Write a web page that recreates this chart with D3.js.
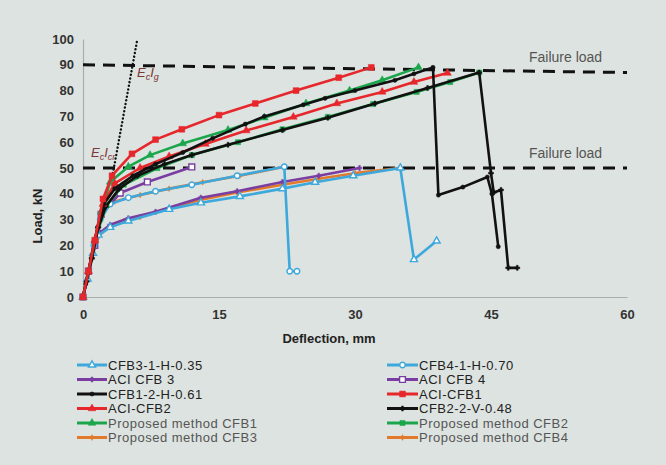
<!DOCTYPE html>
<html><head><meta charset="utf-8">
<script src="https://cdn.jsdelivr.net/npm/d3@7"></script>
<style>
html,body{margin:0;padding:0;background:#dde3e0;}
svg{display:block;font-family:"Liberation Sans",Arial,sans-serif;}
</style></head>
<body>
<svg id="chart" width="666" height="465"></svg>
<script>
// ---- data (deflection mm, load kN) ----
const xTicks = [0, 15, 30, 45, 60];
const yTicks = [0, 10, 20, 30, 40, 50, 60, 70, 80, 90, 100];

const cfb3_1_H_035 = [[0,0],[0.5,7],[1.1,17],[1.7,24],[3,27],[5,29.5],[9.5,34],[13,36.5],[17.3,39],[22,42],[25.6,44.5],[29.8,47],[35,50],[36.5,14.5],[39,21.7]];
const cfb4_1_H_070 = [[0,0],[0.6,10],[1.2,20],[1.9,30],[3,36],[5,38.5],[8,41],[12,43.5],[17,47],[22.2,50.5],[22.8,10],[23.6,10]];
const aciCfb3 = [[0,0],[0.6,10],[1.3,20],[1.9,25],[3,28],[5,30.5],[8,33],[13,38.5],[17,41],[22,44.6],[26,47],[30.5,50]];
const aciCfb4 = [[0,0],[0.6,10],[1.3,20],[2,32],[4.1,40.3],[7.1,44.6],[12,50.4]];
const cfb1_2_H_061 = [[0,0],[0.3,5],[0.9,15],[1.6,27],[2.3,36],[3.5,42],[5.5,47],[8,51.5],[11,56],[14.3,61.5],[17.9,67],[20,70],[24.3,74.5],[26.7,77],[30,80],[34.4,84],[36.5,86.5],[38.6,89],[39.2,39.5],[41.9,42.6],[44.6,46.5],[45.1,40],[45.8,19.5]];
const aciCfb1 = [[0,0],[0.6,10],[1.3,22],[2.2,38],[3.2,47],[5.4,55.5],[8,61],[10.9,65],[15,70.5],[19,75],[23.5,80],[28.2,85],[31.8,89]];
const aciCfb2 = [[0,0],[0.6,10],[1.3,22],[2.2,36],[3.5,44],[6.3,50],[9.5,54.5],[13.5,59.3],[18,64.5],[23.2,69.8],[28,75],[33,79.5],[36.5,83.3],[40.2,86.8]];
const cfb2_2_V_048 = [[0,0],[0.4,6],[1,15],[1.7,27],[2.5,35],[4,42],[6,47],[9,51.5],[12,55],[16,59],[22,64.7],[27,69.5],[32.2,75],[38,81],[43.7,87],[45,48],[45.3,40.5],[46.1,41.5],[46.9,11.3],[47.9,11.3]];
const propCfb1 = [[0,0],[0.6,10],[1.3,22],[2,33],[3,44.6],[5,50.5],[7.4,55],[11,59.5],[16,64.7],[20,69.5],[24.6,75],[29.4,80],[33,84],[37,89]];
const propCfb2 = [[0,0],[0.6,10],[1.3,22],[2.6,35.6],[4.5,43.5],[8.2,50],[12,55],[17.1,60],[22,65],[27,69.8],[32,74.8],[36.8,79.5],[40.5,83.3],[43.7,87]];
const propCfb3 = [[0,0],[0.5,8],[1.1,17],[1.8,24],[3,27.5],[4.5,29.5],[6.3,31],[9.5,34.5],[12.9,37.6],[17,40.5],[22,43.5],[26,45.8],[30,48],[35,50]];
const propCfb4 = [[0,0],[0.5,8],[1.1,18],[1.7,28],[2.3,34],[3.5,37],[6.3,39.5],[9.5,42],[13.2,44.5],[17.3,47],[22.2,50.5]];

const failureUpper = [[0,90],[60,87]];
const failureLower = [[0,50],[60,50]];
const ecLine = [[3.3,48],[6.0,100]];

const seriesNames = ["CFB3-1-H-0.35","CFB4-1-H-0.70","ACI CFB 3","ACI CFB 4","CFB1-2-H-0.61","ACI-CFB1","ACI-CFB2","CFB2-2-V-0.48","Proposed method CFB1","Proposed method CFB2","Proposed method CFB3","Proposed method CFB4"];
const seriesData = [cfb3_1_H_035,cfb4_1_H_070,aciCfb3,aciCfb4,cfb1_2_H_061,aciCfb1,aciCfb2,cfb2_2_V_048,propCfb1,propCfb2,propCfb3,propCfb4];

// ---- styles ----
const BLUE="#3da8dc", PURPLE="#7a3ea2", BLACK="#111", RED="#e6272b", GREEN="#1ba64c", ORANGE="#e27a2c";
const styles = [
  {c:BLUE, m:"triangle", open:true, s:22},
  {c:BLUE, m:"circle", open:true, s:24},
  {c:PURPLE, m:"cross", open:false, s:14},
  {c:PURPLE, m:"square", open:true, s:34},
  {c:BLACK, m:"circle", open:false, s:14},
  {c:RED, m:"square", open:false, s:34},
  {c:RED, m:"triangle", open:false, s:26},
  {c:BLACK, m:"cross", open:false, s:14},
  {c:GREEN, m:"triangle", open:false, s:26},
  {c:GREEN, m:"square", open:false, s:26},
  {c:ORANGE, m:"diamond", open:false, s:10},
  {c:ORANGE, m:"diamond", open:false, s:10}
];
const symType = {triangle:d3.symbolTriangle, circle:d3.symbolCircle, square:d3.symbolSquare, cross:d3.symbolCross, diamond:d3.symbolDiamond};

const svg = d3.select("#chart");
const x = d3.scaleLinear().domain([0,60]).range([83,627]);
const y = d3.scaleLinear().domain([0,100]).range([297,39]);

// axes
const yAxis = svg.append("g").attr("transform","translate(83,0)")
  .call(d3.axisLeft(y).tickValues(yTicks).tickSize(0).tickPadding(9));
yAxis.select(".domain").attr("stroke","#a9afad").attr("stroke-width",1.2);
yAxis.selectAll("text").attr("font-size",13).attr("fill","#333").attr("font-family","Liberation Sans, Arial").attr("font-weight","bold");

const xAxis = svg.append("g").attr("transform","translate(0,297)")
  .call(d3.axisBottom(x).tickValues(xTicks).tickSize(0).tickPadding(13));
xAxis.select(".domain").attr("stroke","#a9afad").attr("stroke-width",1.2);
xAxis.selectAll("text").attr("font-size",13).attr("fill","#333").attr("font-family","Liberation Sans, Arial").attr("font-weight","bold");

// axis titles
svg.append("text").attr("x",329).attr("y",343).attr("text-anchor","middle")
  .attr("font-size",13).attr("font-weight","bold").attr("fill","#222").text("Deflection, mm");
svg.append("text").attr("transform","translate(42,216) rotate(-90)").attr("text-anchor","middle")
  .attr("font-size",13).attr("font-weight","bold").attr("fill","#222").text("Load, kN");

const line = d3.line().x(d=>x(d[0])).y(d=>y(d[1]));

// failure load lines
[failureUpper, failureLower].forEach(ln=>{
  svg.append("path").attr("d",line(ln)).attr("fill","none").attr("stroke","#111")
    .attr("stroke-width",3).attr("stroke-dasharray","12,8");
});
svg.append("text").attr("x",529).attr("y",62).attr("font-size",14).attr("fill","#555").text("Failure load");
svg.append("text").attr("x",529).attr("y",158).attr("font-size",14).attr("fill","#555").text("Failure load");

// EcI dotted line
svg.append("path").attr("d",line(ecLine)).attr("fill","none").attr("stroke","#111")
  .attr("stroke-width",2.4).attr("stroke-linecap","round").attr("stroke-dasharray","0.1,3.6");

function eLabel(px,py,sub){
  const t = svg.append("text").attr("x",px).attr("y",py).attr("font-size",13).attr("font-style","italic").attr("fill","#7d3535");
  t.append("tspan").text("E");
  t.append("tspan").attr("font-size",9).attr("dy",3).text("c");
  t.append("tspan").attr("dy",-3).text("I");
  t.append("tspan").attr("font-size",9).attr("dy",3).text(sub);
}
eLabel(137,77,"g");
eLabel(91,157,"cr");

// series lines & markers
const order = [11,10,3,2,1,0,9,8,7,6,4,5];
order.forEach(i=>{
  const st = styles[i];
  const g = svg.append("g");
  g.append("path").attr("d",line(seriesData[i])).attr("fill","none").attr("stroke",st.c)
    .attr("stroke-width",2.6).attr("stroke-linejoin","round");
  const sym = d3.symbol().type(symType[st.m]).size(st.s);
  g.selectAll("path.m").data(seriesData[i]).join("path").attr("class","m")
    .attr("transform",d=>`translate(${x(d[0])},${y(d[1])})`)
    .attr("d",sym())
    .attr("fill",st.open?"#fff":st.c).attr("stroke",st.c).attr("stroke-width",st.open?1.4:0.5);
});

// legend
const legRowsY = [365,379.5,394,408.5,423,437.5];
seriesNames.forEach((name,i)=>{
  const col = i%2, row = Math.floor(i/2);
  const lx0 = col===0?77:387, lx1 = col===0?107:418;
  const ly = legRowsY[row];
  const st = styles[i];
  const g = svg.append("g");
  g.append("line").attr("x1",lx0).attr("x2",lx1).attr("y1",ly).attr("y2",ly).attr("stroke",st.c).attr("stroke-width",3);
  g.append("path").attr("transform",`translate(${(lx0+lx1)/2},${ly})`)
    .attr("d",d3.symbol().type(symType[st.m]).size(st.s)())
    .attr("fill",st.open?"#fff":st.c).attr("stroke",st.c).attr("stroke-width",st.open?1.4:0.5);
  g.append("text").attr("x",lx1+1).attr("y",ly+4.5).attr("font-size",13).attr("letter-spacing",0.5)
    .attr("fill", i>=8 ? "#555" : "#222").text(name);
});
</script>
</body></html>
